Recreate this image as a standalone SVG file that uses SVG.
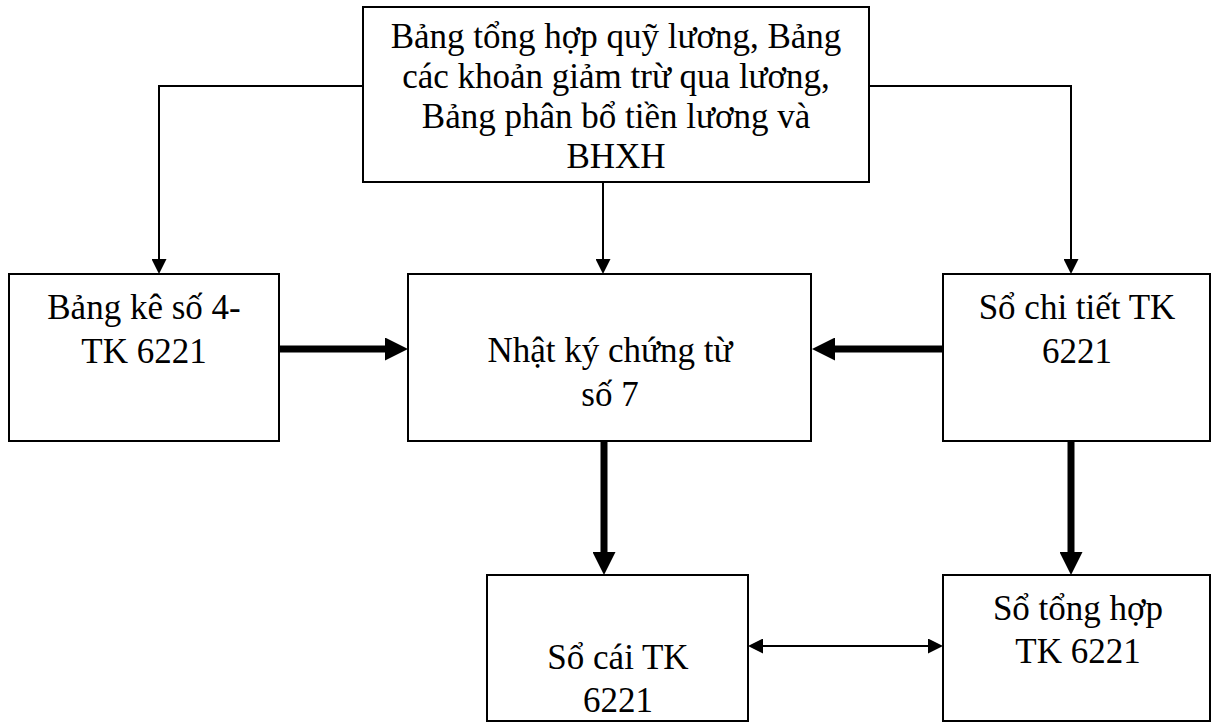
<svg xmlns="http://www.w3.org/2000/svg" width="1212" height="723" viewBox="0 0 1212 723">
<style>
.box{fill:#fff;stroke:#000;stroke-width:2}
.t{font-family:"Liberation Serif","Times New Roman",serif;font-size:35px;fill:#000;text-anchor:middle}
.thin{fill:none;stroke:#000;stroke-width:2}
.thick{fill:none;stroke:#000;stroke-width:7}
</style>
<defs>
<marker id="ah" markerUnits="userSpaceOnUse" markerWidth="15" markerHeight="15" refX="0" refY="7.5" orient="auto-start-reverse"><path d="M0,0 L15,7.5 L0,15 z" fill="#000"/></marker>
<marker id="ahb" markerUnits="userSpaceOnUse" markerWidth="23" markerHeight="23" refX="0" refY="11.5" orient="auto"><path d="M0,0 L23,11.5 L0,23 z" fill="#000"/></marker>
</defs>
<rect width="1212" height="723" fill="#fff"/>
<g id="connectors">
<polyline class="thin" points="363,86 159,86 159,259" marker-end="url(#ah)"/>
<polyline class="thin" points="869,86 1071,86 1071,259" marker-end="url(#ah)"/>
<line class="thin" x1="603" y1="182" x2="603" y2="259" marker-end="url(#ah)"/>
<line class="thick" x1="279" y1="349" x2="385" y2="349" marker-end="url(#ahb)"/>
<line class="thick" x1="943" y1="349" x2="835" y2="349" marker-end="url(#ahb)"/>
<line class="thick" x1="604" y1="441" x2="604" y2="552" marker-end="url(#ahb)"/>
<line class="thick" x1="1071" y1="441" x2="1071" y2="552" marker-end="url(#ahb)"/>
<line class="thin" x1="763" y1="646" x2="928" y2="646" marker-start="url(#ah)" marker-end="url(#ah)"/>
</g>
<g id="top">
<rect class="box" x="363" y="7" width="506" height="175"/>
<text class="t" x="616" y="48">Bảng tổng hợp quỹ lương, Bảng</text>
<text class="t" x="616" y="88">các khoản giảm trừ qua lương,</text>
<text class="t" x="616" y="128">Bảng phân bổ tiền lương và</text>
<text class="t" x="616" y="168">BHXH</text>
</g>
<g id="bangke">
<rect class="box" x="9" y="274" width="270" height="167"/>
<text class="t" x="144" y="319">Bảng kê số 4-</text>
<text class="t" x="144" y="363">TK 6221</text>
</g>
<g id="nhatky">
<rect class="box" x="408" y="274" width="403" height="167"/>
<text class="t" x="610" y="362">Nhật ký chứng từ</text>
<text class="t" x="610" y="406">số 7</text>
</g>
<g id="sochitiet">
<rect class="box" x="943" y="274" width="267" height="167"/>
<text class="t" x="1077" y="319">Sổ chi tiết TK</text>
<text class="t" x="1077" y="363">6221</text>
</g>
<g id="socai">
<rect class="box" x="487" y="575" width="261" height="146"/>
<text class="t" x="618" y="669">Sổ cái TK</text>
<text class="t" x="618" y="712">6221</text>
</g>
<g id="sotonghop">
<rect class="box" x="943" y="575" width="267" height="146"/>
<text class="t" x="1078" y="620">Sổ tổng hợp</text>
<text class="t" x="1078" y="663">TK 6221</text>
</g>
</svg>
